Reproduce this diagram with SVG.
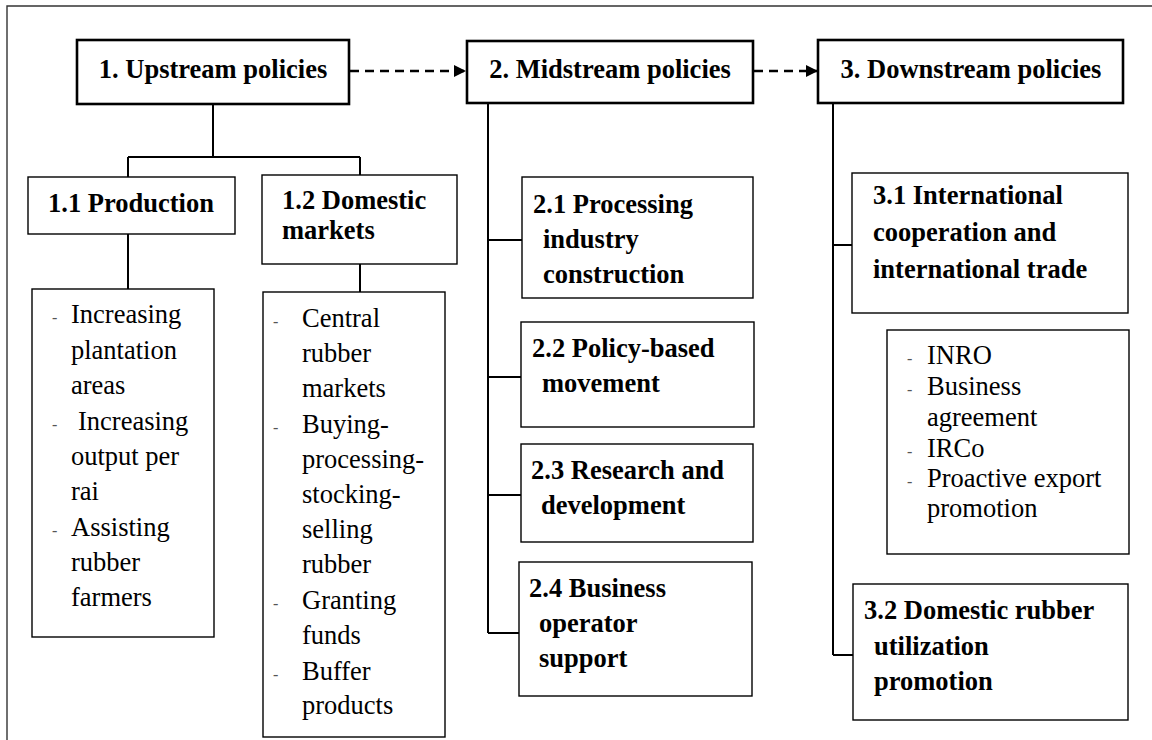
<svg xmlns="http://www.w3.org/2000/svg" width="1152" height="740" viewBox="0 0 1152 740">
  <style>
    .head { fill: #fff; stroke: #000; stroke-width: 2.6; }
    .box { fill: #fff; stroke: #000; stroke-width: 1.4; }
    .line { fill: none; stroke: #000; stroke-width: 2; }
    .dash { fill: none; stroke: #000; stroke-width: 2.4; stroke-dasharray: 9 6; }
    text { font-family: "Liberation Serif", "Times New Roman", serif; }
    .b { font-weight: bold; font-size: 26.5px; fill: #000; }
    .r { font-size: 26.5px; fill: #000; }
    .d { font-size: 16px; fill: #555; }
  </style>
  <defs>
    <marker id="arrow" viewBox="0 0 10 10" refX="10" refY="5" markerWidth="14" markerHeight="12" markerUnits="userSpaceOnUse" orient="auto">
      <path d="M0,0 L10,5 L0,10 z" fill="#000"/>
    </marker>
  </defs>
  <rect width="1152" height="740" fill="#fff"/>

  <!-- frame -->
  <path d="M7,740 V6 H1152" fill="none" stroke="#333" stroke-width="1.4"/>

  <!-- connectors -->
  <g id="connectors">
    <path class="dash" d="M350,71 H466" marker-end="url(#arrow)"/>
    <path class="dash" d="M754,71 H818" marker-end="url(#arrow)"/>
    <path class="line" d="M213,104 V157 M128,157 H360 M128,157 V177 M360,157 V175"/>
    <path class="line" d="M128,234 V289 M360,264 V292"/>
    <path class="line" d="M488,103 V633 M488,240 H522 M488,377 H521 M488,495 H521 M488,633 H519"/>
    <path class="line" d="M833,103 V655 M833,245 H852 M833,655 H853"/>
  </g>

  <g id="n1">
    <rect class="head" x="77" y="40" width="272" height="64"/>
    <text class="b" x="213" y="78" text-anchor="middle">1. Upstream policies</text>
  </g>
  <g id="n2">
    <rect class="head" x="467" y="41" width="286" height="62"/>
    <text class="b" x="610" y="78" text-anchor="middle">2. Midstream policies</text>
  </g>
  <g id="n3">
    <rect class="head" x="818" y="40" width="305" height="63"/>
    <text class="b" x="971" y="78" text-anchor="middle">3. Downstream policies</text>
  </g>

  <g id="n11">
    <rect class="box" x="28" y="177" width="207" height="57"/>
    <text class="b" x="48" y="212">1.1 Production</text>
  </g>
  <g id="n12">
    <rect class="box" x="262" y="175" width="195" height="89"/>
    <text class="b" x="282" y="209">1.2 Domestic</text>
    <text class="b" x="282" y="239">markets</text>
  </g>

  <g id="list1">
    <rect class="box" x="32" y="289" width="182" height="348"/>
    <text class="d" x="52" y="323">-</text>
    <text class="r" x="71" y="323">Increasing</text>
    <text class="r" x="71" y="359">plantation</text>
    <text class="r" x="71" y="394">areas</text>
    <text class="d" x="52" y="430">-</text>
    <text class="r" x="78" y="430">Increasing</text>
    <text class="r" x="71" y="465">output per</text>
    <text class="r" x="71" y="500">rai</text>
    <text class="d" x="52" y="536">-</text>
    <text class="r" x="71" y="536">Assisting</text>
    <text class="r" x="71" y="571">rubber</text>
    <text class="r" x="71" y="606">farmers</text>
  </g>

  <g id="list2">
    <rect class="box" x="263" y="292" width="182" height="445"/>
    <text class="d" x="273" y="327">-</text>
    <text class="r" x="302" y="327">Central</text>
    <text class="r" x="302" y="362">rubber</text>
    <text class="r" x="302" y="397">markets</text>
    <text class="d" x="273" y="433">-</text>
    <text class="r" x="302" y="433">Buying-</text>
    <text class="r" x="302" y="468">processing-</text>
    <text class="r" x="302" y="503">stocking-</text>
    <text class="r" x="302" y="538">selling</text>
    <text class="r" x="302" y="573">rubber</text>
    <text class="d" x="273" y="609">-</text>
    <text class="r" x="302" y="609">Granting</text>
    <text class="r" x="302" y="644">funds</text>
    <text class="d" x="273" y="680">-</text>
    <text class="r" x="302" y="680">Buffer</text>
    <text class="r" x="302" y="714">products</text>
  </g>

  <g id="n21">
    <rect class="box" x="522" y="177" width="231" height="121"/>
    <text class="b" x="533" y="213">2.1 Processing</text>
    <text class="b" x="543" y="248">industry</text>
    <text class="b" x="543" y="283">construction</text>
  </g>
  <g id="n22">
    <rect class="box" x="521" y="322" width="233" height="105"/>
    <text class="b" x="532" y="357">2.2 Policy-based</text>
    <text class="b" x="542" y="392">movement</text>
  </g>
  <g id="n23">
    <rect class="box" x="521" y="444" width="232" height="98"/>
    <text class="b" x="531" y="479">2.3 Research and</text>
    <text class="b" x="541" y="514">development</text>
  </g>
  <g id="n24">
    <rect class="box" x="519" y="562" width="233" height="134"/>
    <text class="b" x="529" y="597">2.4 Business</text>
    <text class="b" x="539" y="632">operator</text>
    <text class="b" x="539" y="667">support</text>
  </g>

  <g id="n31">
    <rect class="box" x="852" y="173" width="276" height="140"/>
    <text class="b" x="873" y="204">3.1 International</text>
    <text class="b" x="873" y="241">cooperation and</text>
    <text class="b" x="873" y="278">international trade</text>
  </g>
  <g id="list3">
    <rect class="box" x="887" y="330" width="242" height="224"/>
    <text class="d" x="907" y="364">-</text>
    <text class="r" x="927" y="364">INRO</text>
    <text class="d" x="907" y="395">-</text>
    <text class="r" x="927" y="395">Business</text>
    <text class="r" x="927" y="426">agreement</text>
    <text class="d" x="907" y="457">-</text>
    <text class="r" x="927" y="457">IRCo</text>
    <text class="d" x="907" y="487">-</text>
    <text class="r" x="927" y="487">Proactive export</text>
    <text class="r" x="927" y="517">promotion</text>
  </g>
  <g id="n32">
    <rect class="box" x="853" y="584" width="275" height="136"/>
    <text class="b" x="864" y="619">3.2 Domestic rubber</text>
    <text class="b" x="874" y="655">utilization</text>
    <text class="b" x="874" y="690">promotion</text>
  </g>
</svg>
